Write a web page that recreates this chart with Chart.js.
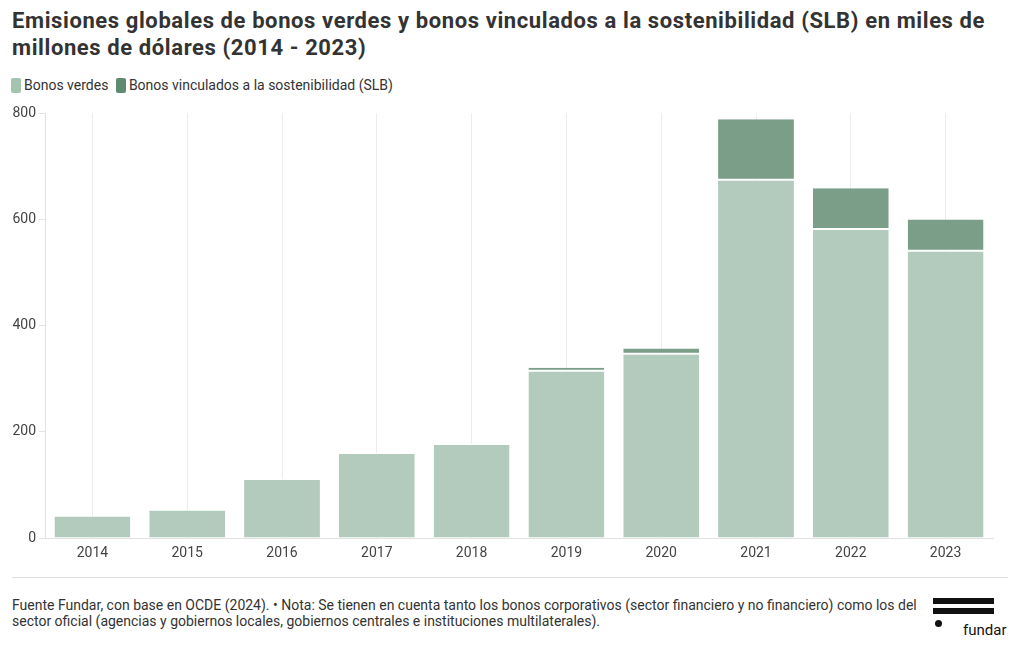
<!DOCTYPE html>
<html>
<head>
<meta charset="utf-8">
<script src="https://cdn.jsdelivr.net/npm/chart.js@4"></script>
<style>
  body { margin: 0; background: #fff; font-family: 'Roboto', sans-serif; color: #333; }
  #wrap { position: relative; width: 1020px; height: 650px; }
  h1 { position: absolute; left: 12px; top: 7px; margin: 0; width: 1000px; font-size: 22px; line-height: 27px; font-weight: 700; color: #333; letter-spacing: 0.6px; }
  #legend { position: absolute; left: 11px; top: 77px; font-size: 14px; color: #333; }
  #legend span.box { display: inline-block; width: 10px; height: 15px; border-radius: 2px; vertical-align: -3px; margin-right: 3px; }
  #chartBox { position: absolute; left: 0; top: 102px; width: 1000px; height: 468px; }
  hr { position: absolute; left: 12px; top: 577px; width: 996px; margin: 0; border: 0; border-top: 1px solid #ddd; }
  #note { position: absolute; left: 12px; top: 597px; width: 910px; font-size: 14px; line-height: 16px; color: #333; }
  #logo { position: absolute; left: 933px; top: 598px; width: 78px; height: 42px; }
  #logo .bar { position: absolute; left: 0; width: 61px; height: 6px; background: #111; }
  #logo .dot { position: absolute; left: 2px; top: 22px; width: 7px; height: 7px; border-radius: 50%; background: #111; }
  #logo .txt { position: absolute; left: 30px; top: 23px; font-size: 15px; color: #111; }
</style>
</head>
<body>
<div id="wrap">
  <h1>Emisiones globales de bonos verdes y bonos vinculados a la sostenibilidad (SLB) en miles de millones de dólares (2014 - 2023)</h1>
  <div id="legend">
    <span class="box" style="background:#a3c5b0"></span>Bonos verdes
    <span class="box" style="background:#5f8c6e; margin-left:4px"></span>Bonos vinculados a la sostenibilidad (SLB)
  </div>
  <div id="chartBox"><canvas id="myChart"></canvas></div>
  <hr>
  <div id="note">Fuente Fundar, con base en OCDE (2024). • Nota: Se tienen en cuenta tanto los bonos corporativos (sector financiero y no financiero) como los del sector oficial (agencias y gobiernos locales, gobiernos centrales e instituciones multilaterales).</div>
  <div id="logo">
    <div class="bar" style="top:0"></div>
    <div class="bar" style="top:10px"></div>
    <div class="dot"></div>
    <div class="txt">fundar</div>
  </div>
</div>
<script>
'use strict';

const years = ['2014', '2015', '2016', '2017', '2018', '2019', '2020', '2021', '2022', '2023'];
const bonosVerdes = [42, 53, 111, 160, 177, 315, 347, 675, 582, 541];
const bonosSLB = [0, 0, 0, 0, 0, 6, 10, 114, 77, 59];
const yTicks = [0, 200, 400, 600, 800];

const chartCanvas = document.getElementById('myChart');

new Chart(chartCanvas, {
  type: 'bar',
  data: {
    labels: years,
    datasets: [{
      label: 'Bonos verdes',
      data: bonosVerdes,
      backgroundColor: '#b2cbbc',
      borderColor: '#ffffff',
      borderWidth: { top: 1, left: 0, right: 0, bottom: 0 },
      borderSkipped: false
    }, {
      label: 'Bonos vinculados a la sostenibilidad (SLB)',
      data: bonosSLB,
      backgroundColor: '#7b9e89',
      borderColor: '#ffffff',
      borderWidth: { bottom: 1, top: 0, left: 0, right: 0 },
      borderSkipped: false
    }]
  },
  options: {
    responsive: true,
    maintainAspectRatio: false,
    animation: false,
    layout: { padding: { top: 5, right: 7, left: 0, bottom: 0 } },
    datasets: { bar: { categoryPercentage: 1, barPercentage: 0.8 } },
    plugins: {
      legend: { display: false },
      tooltip: { enabled: false }
    },
    scales: {
      x: {
        stacked: true,
        grid: { offset: false, color: '#ececec', drawTicks: false },
        border: { color: '#e2e2e2' },
        ticks: { color: '#444', font: { family: 'Roboto', size: 14 }, padding: 7 },
        afterFit: function(axis) { axis.height = 32; }
      },
      y: {
        stacked: true,
        min: 0,
        max: 800,
        afterBuildTicks: function(axis) { axis.ticks = yTicks.map(v => ({ value: v })); },
        grid: { drawOnChartArea: false, color: '#e2e2e2', tickLength: 6 },
        border: { color: '#e2e2e2' },
        ticks: { color: '#444', font: { family: 'Roboto', size: 14 }, padding: 3 },
        afterFit: function(axis) { axis.width = 45; }
      }
    }
  }
});
</script>
</body>
</html>
